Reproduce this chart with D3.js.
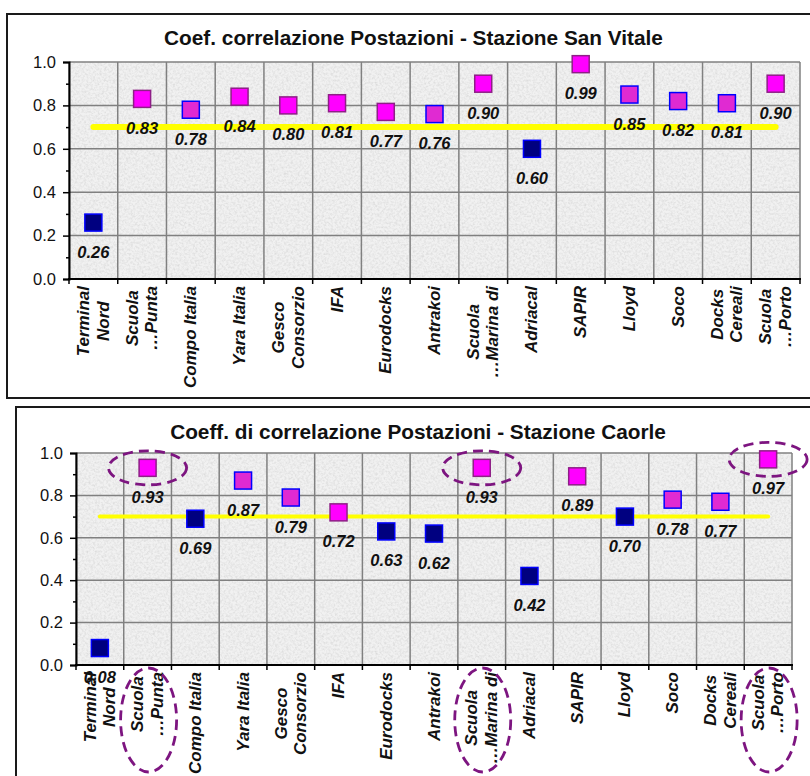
<!DOCTYPE html>
<html><head><meta charset="utf-8">
<script src="https://cdn.jsdelivr.net/npm/d3@7"></script>
<style>html,body{margin:0;padding:0;background:#fff;}svg{display:block;}</style>
</head><body>
<script>
// ---- data ----
const categories = ["Terminal\nNord","Scuola\n…Punta","Compo Italia","Yara Italia","Gesco\nConsorzio","IFA","Eurodocks","Antrakoi","Scuola\n…Marina di","Adriacal","SAPIR","Lloyd","Soco","Docks\nCereali","Scuola\n…Porto"];
const sanVitaleValues = [0.26,0.83,0.78,0.84,0.80,0.81,0.77,0.76,0.90,0.60,0.99,0.85,0.82,0.81,0.90];
const sanVitaleSeries = ["n","p","b","p","p","p","p","b","p","n","p","b","b","b","p"];
const caorleValues = [0.08,0.93,0.69,0.87,0.79,0.72,0.63,0.62,0.93,0.42,0.89,0.70,0.78,0.77,0.97];
const caorleSeries = ["n","p","n","b","b","p","n","n","p","n","p","n","b","b","p"];
const threshold = 0.70;
const yTicks = [0,0.2,0.4,0.6,0.8,1.0];
const yMinorTicks = [0.1,0.3,0.5,0.7,0.9];
const titleTop = "Coef. correlazione Postazioni - Stazione San Vitale";
const titleBottom = "Coeff. di correlazione Postazioni - Stazione Caorle";
const circledCaorle = ["Scuola\n…Punta","Scuola\n…Marina di","Scuola\n…Porto"];

// ---- styles ----
const FONT = "Arial, 'Liberation Sans', sans-serif";
const seriesStyle = {
  n: {fill:"#000080", stroke:"#0000ff"},
  b: {fill:"#e02ad2", stroke:"#0000ff"},
  p: {fill:"#ff00ff", stroke:"#8e1f86"}
};

const svg = d3.select("body").append("svg").attr("width",810).attr("height",776);
const defs = svg.append("defs");
const f = defs.append("filter").attr("id","granite").attr("x",0).attr("y",0).attr("width","100%").attr("height","100%");
f.append("feTurbulence").attr("type","fractalNoise").attr("baseFrequency","0.45").attr("numOctaves",3).attr("seed",7).attr("result","t");
f.append("feColorMatrix").attr("in","t").attr("type","matrix")
  .attr("values","0 0 0 0 0.6  0 0 0 0 0.6  0 0 0 0 0.6  1.1 0 0 0 -0.42");

function panel(cfg){
  const {box, plot, title, titleY, values, series, lineW, circled} = cfg;
  svg.append("rect").attr("x",box[0]).attr("y",box[1]).attr("width",830).attr("height",box[2])
    .attr("fill","#fff").attr("stroke","#1a1a1a").attr("stroke-width",2);
  const x = d3.scaleBand().domain(categories).range([plot.l, plot.r]);
  const y = d3.scaleLinear().domain([0,1]).range([plot.b, plot.t]);
  const g = svg.append("g");
  g.append("rect").attr("x",plot.l).attr("y",plot.t).attr("width",plot.r-plot.l).attr("height",plot.b-plot.t).attr("fill","#f1f1f1");
  g.append("rect").attr("x",plot.l).attr("y",plot.t).attr("width",plot.r-plot.l).attr("height",plot.b-plot.t).attr("filter","url(#granite)").attr("fill","#fff");
  yTicks.forEach(t=>{
    g.append("line").attr("x1",plot.l).attr("x2",plot.r).attr("y1",y(t)).attr("y2",y(t))
      .attr("stroke","#808080").attr("stroke-width",1.5);
  });
  const bounds = categories.map(c=>x(c)).concat([plot.r]);
  bounds.forEach(b=>{
    g.append("line").attr("x1",b).attr("x2",b).attr("y1",plot.t).attr("y2",plot.b)
      .attr("stroke","#808080").attr("stroke-width",1.5);
  });
  const yAxis = d3.axisLeft(y).tickValues(yTicks).tickFormat(d3.format(".1f")).tickSize(6).tickPadding(7);
  const ya = g.append("g").attr("transform",`translate(${plot.l},0)`).call(yAxis);
  ya.select(".domain").attr("stroke","#000").attr("stroke-width",2);
  ya.selectAll(".tick line").attr("stroke","#000").attr("stroke-width",1.5);
  ya.selectAll("text").attr("font-family",FONT).attr("font-size","16.5px").attr("fill","#111");
  const yMinor = d3.axisLeft(y).tickValues(yMinorTicks).tickSize(3).tickFormat("");
  const ym = g.append("g").attr("transform",`translate(${plot.l},0)`).call(yMinor);
  ym.select(".domain").remove();
  ym.selectAll(".tick line").attr("stroke","#000").attr("stroke-width",1.5);
  g.append("line").attr("x1",plot.l-1).attr("x2",plot.r+1).attr("y1",plot.b).attr("y2",plot.b).attr("stroke","#000").attr("stroke-width",2);
  bounds.forEach(b=>{
    g.append("line").attr("x1",b).attr("x2",b).attr("y1",plot.b).attr("y2",plot.b+5).attr("stroke","#000").attr("stroke-width",1.5);
  });
  categories.forEach(c=>{
    const lines = c.split("\n");
    const cx = x(c) + x.bandwidth()/2;
    const lg = g.append("g").attr("transform",`translate(${cx},${plot.b+7}) rotate(-90)`);
    const ts = lines.map((ln,j)=> lg.append("text").text(ln)
      .attr("y",(j-(lines.length-1)/2)*19.5)
      .attr("dominant-baseline","central")
      .attr("text-anchor","middle")
      .attr("font-family",FONT).attr("font-size","17px").attr("font-weight","bold").attr("font-style","italic").attr("fill","#111"));
    const mw = d3.max(ts, t=>t.node().getComputedTextLength());
    ts.forEach(t=>t.attr("x",-mw/2));
  });
  const first = categories[0], last = categories[categories.length-1];
  g.append("line").attr("x1",x(first)+x.bandwidth()/2).attr("x2",x(last)+x.bandwidth()/2)
    .attr("y1",y(threshold)).attr("y2",y(threshold))
    .attr("stroke","#ffff00").attr("stroke-width",lineW).attr("stroke-linecap","round");
  const S = 17;
  categories.forEach((c,i)=>{
    const cx = x(c) + x.bandwidth()/2, cy = y(values[i]);
    const st = seriesStyle[series[i]];
    g.append("rect").attr("x",cx-S/2).attr("y",cy-S/2).attr("width",S).attr("height",S)
      .attr("fill",st.fill).attr("stroke",st.stroke).attr("stroke-width",1.5);
  });
  categories.forEach((c,i)=>{
    const cx = x(c) + x.bandwidth()/2, cy = y(values[i]);
    g.append("text").text(d3.format(".2f")(values[i]))
      .attr("x",cx).attr("y",cy+29).attr("dominant-baseline","central").attr("text-anchor","middle")
      .attr("font-family",FONT).attr("font-size","16.5px").attr("font-weight","bold").attr("font-style","italic").attr("fill","#111");
  });
  (circled||[]).forEach(c=>{
    const i = categories.indexOf(c);
    const cx = x(c) + x.bandwidth()/2;
    const common = e=>e.attr("fill","none").attr("stroke","#7d1580").attr("stroke-width",2.8).attr("stroke-dasharray","10,6");
    common(g.append("ellipse").attr("cx",cx).attr("cy",y(values[i])).attr("rx",39).attr("ry",17));
    common(g.append("ellipse").attr("cx",cx+1).attr("cy",plot.b+55).attr("rx",28).attr("ry",52));
  });
  svg.append("text").text(title).attr("x",(box[0]+810)/2+5).attr("y",titleY)
    .attr("dominant-baseline","central").attr("text-anchor","middle")
    .attr("font-family",FONT).attr("font-size","20.8px").attr("font-weight","bold").attr("fill","#111");
}

panel({box:[7,14,384], plot:{l:69,r:800,t:62,b:279}, title:titleTop, titleY:37,
  values:sanVitaleValues, series:sanVitaleSeries, lineW:6});
panel({box:[16,407,400], plot:{l:76,r:792,t:453,b:665}, title:titleBottom, titleY:431,
  values:caorleValues, series:caorleSeries, lineW:4, circled:circledCaorle});
</script>
</body></html>
